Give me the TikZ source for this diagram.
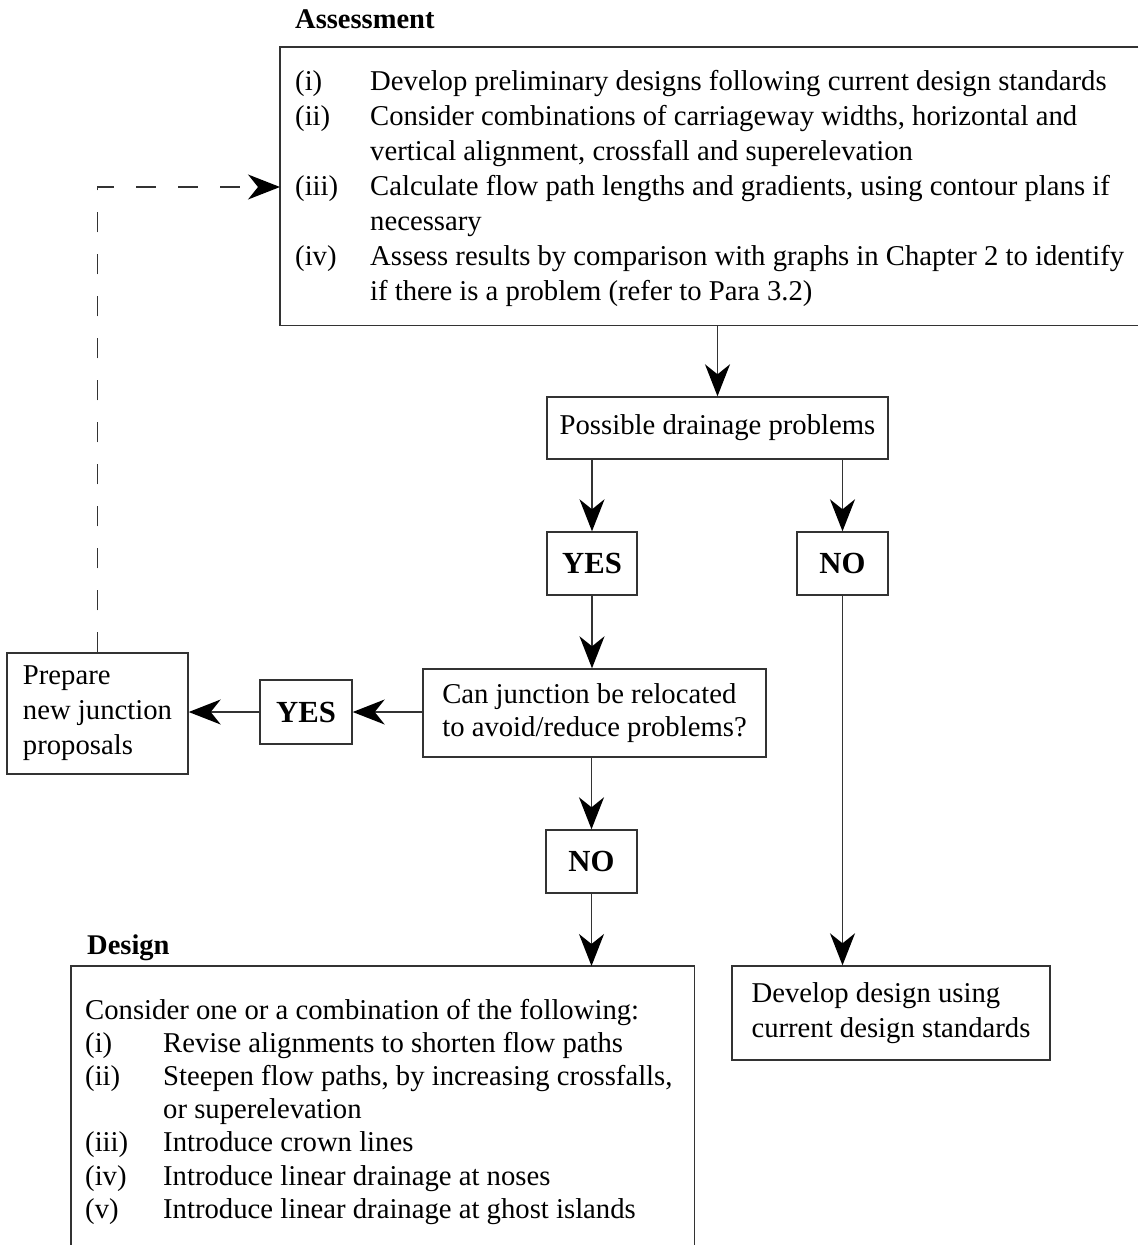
\documentclass[tikz,border=0pt]{standalone}
\usepackage{fontspec}
\setmainfont{Liberation Serif}
\usetikzlibrary{arrows.meta}

\begin{document}
\begin{tikzpicture}[x=1pt, y=-1pt,
    >={Stealth[length=32pt, width=25pt, inset=10pt, fill=black, color=black]},
    font=\fontsize{28.7}{35}\selectfont,
    box/.style={draw=black!80, line width=1.4pt, inner sep=0pt},
    answer/.style={box, minimum width=91pt, minimum height=63pt,
      font=\fontsize{30.7}{35}\selectfont\bfseries},
    title/.style={anchor=base west, inner sep=0pt,
      font=\fontsize{28.5}{35}\selectfont\bfseries},
    link/.style={draw=black!80, line width=1.4pt}]
    \useasboundingbox (0,0) rectangle (1138,1245);
    % assessment
    \node[title] (assesstitle) at (295,28) {Assessment};
    \node[anchor=north west, minimum width=858pt, minimum height=278pt,
      inner sep=0pt] (assess) at (280,47) {};
    \draw[link] (assess.north east) -- (assess.north west)
      -- (assess.south west) -- (assess.south east);
    \node[anchor=base west, inner sep=0pt] (assesslist) at (295,90)
      {\begin{tabular}[t]{@{}p{75pt}@{}l@{}}
        (i)   & Develop preliminary designs following current design standards\\
        (ii)  & Consider combinations of carriageway widths, horizontal and\\
              & vertical alignment, crossfall and superelevation\\
        (iii) & Calculate flow path lengths and gradients, using contour plans if\\
              & necessary\\
        (iv)  & Assess results by comparison with graphs in Chapter 2 to identify\\
              & if there is a problem (refer to Para 3.2)
      \end{tabular}};
    % decision
    \node[box, minimum width=341pt, minimum height=62pt] (poss) at (717.5,428)
      {Possible drainage problems};
    \node[answer, minimum width=90pt] (yes1) at (592,563.5) {YES};
    \node[answer] (no1) at (842.5,563.5) {NO};
    \node[box, align=left, minimum width=343pt, minimum height=88pt,
      font=\fontsize{28.7}{33}\selectfont] (can) at (594.5,713)
      {Can junction be relocated\\to avoid/reduce problems?};
    \node[answer, minimum width=92pt, minimum height=64pt] (yes2) at (306,712) {YES};
    \node[box, align=left, minimum width=181pt, minimum height=121pt]
      (prep) at (97.5,713.5) {Prepare\\new junction\\proposals};
    \node[answer] (no2) at (591.5,861.5) {NO};
    \node[box, align=left, minimum width=318pt, minimum height=94pt]
      (develop) at (891,1013) {Develop design using\\current design standards};
    % design
    \node[title] (designtitle) at (87,954) {Design};
    \node[anchor=north west, minimum width=623pt, minimum height=279pt,
      inner sep=0pt] (design) at (71,966) {};
    \draw[link] (design.south west) -- (design.north west)
      -- (design.north east) -- (design.south east);
    \node[anchor=base west, inner sep=0pt, font=\fontsize{28.7}{33.2}\selectfont]
      (designlist) at (85,1019)
      {\begin{tabular}[t]{@{}p{78pt}@{}l@{}}
        \multicolumn{2}{@{}l@{}}{Consider one or a combination of the following:}\\
        (i)   & Revise alignments to shorten flow paths\\
        (ii)  & Steepen flow paths, by increasing crossfalls,\\
              & or superelevation\\
        (iii) & Introduce crown lines\\
        (iv)  & Introduce linear drainage at noses\\
        (v)   & Introduce linear drainage at ghost islands
      \end{tabular}};
    % connectors
    \coordinate (backin) at (assess.west |- 0,187);
    \draw[->, link] (assess.south -| poss) -- (poss.north);
    \draw[->, link] (yes1 |- poss.south) -- (yes1.north);
    \draw[->, link] (no1 |- poss.south) -- (no1.north);
    \draw[->, link] (yes1.south) -- (yes1 |- can.north);
    \draw[->, link] (yes2 -| can.west) -- (yes2.east);
    \draw[->, link] (yes2.west) -- (yes2 -| prep.east);
    \draw[->, link] (can.south -| no2) -- (no2.north);
    \draw[->, link] (no2.south) -- (no2 |- design.north);
    \draw[->, link] (no1.south) -- (no1 |- develop.north);
    \draw[->, link, dash pattern=on 20pt off 22pt] (prep.north) |- (backin);
\end{tikzpicture}
\end{document}
